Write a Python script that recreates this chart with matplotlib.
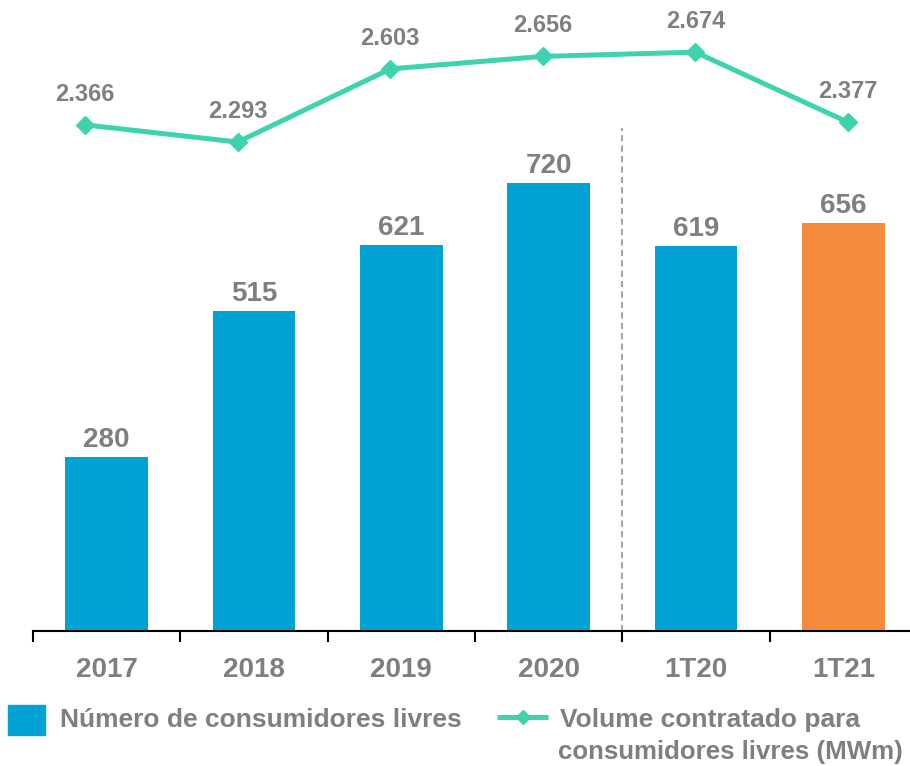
import matplotlib.pyplot as plt
from matplotlib.patches import Rectangle
from matplotlib.lines import Line2D

plt.rcParams['font.family'] = ['Liberation Sans', 'DejaVu Sans']
plt.rcParams['font.weight'] = 'bold'

categories = ["2017", "2018", "2019", "2020", "1T20", "1T21"]
consumidores = [280, 515, 621, 720, 619, 656]
volume = [2.366, 2.293, 2.603, 2.656, 2.674, 2.377]
volume_labels = ["2.366", "2.293", "2.603", "2.656", "2.674", "2.377"]

blue = '#00A3D3'
orange = '#F58B3C'
green = '#3DD3AE'
gray = '#7F7F7F'
bar_colors = [blue, blue, blue, blue, blue, orange]

fig = plt.figure(figsize=(9.1, 7.66), dpi=100)
pos = [33 / 910, 135 / 766, 884 / 910, 631 / 766]
ax = fig.add_axes(pos)
x = list(range(len(categories)))

# bars
ax.bar(x, consumidores, width=0.56, color=bar_colors, zorder=2)
for xi, v in zip(x, consumidores):
    ax.annotate(str(v), (xi, v), xytext=(0, 7), textcoords='offset points',
                ha='center', va='baseline', fontsize=20, color=gray, fontweight='bold')

ax.set_xlim(-0.5, 5.5)
ax.set_ylim(0, 1014)
for s in ['top', 'right', 'left']:
    ax.spines[s].set_visible(False)
ax.spines['bottom'].set_linewidth(1.5)
ax.set_yticks([])
ax.set_xticks(x)
ax.set_xticklabels(categories, fontsize=20, color=gray, fontweight='bold')
ax.tick_params(axis='x', which='major', length=0, pad=19)
ax.set_xticks([i - 0.5 for i in range(len(categories) + 1)], minor=True)
ax.tick_params(axis='x', which='minor', length=8, width=1.5, direction='out')

# separator between years and quarters
ax.axvline(3.5, ymin=0, ymax=(631 - 128) / 631, color='#A6A6A6', linestyle=(0, (3, 2)),
           linewidth=1.5, zorder=1)

# line chart overlaid (slightly different horizontal spread, as in the original)
ax2 = fig.add_axes(pos, frameon=False)
ax2.set_xlim(-0.341, 5.452)
ax2.set_ylim(0.221, 2.895)
ax2.axis('off')
ax2.plot(x, volume, color=green, linewidth=3.6, marker='D', markersize=9, zorder=3)
for xi, v, lab in zip(x, volume, volume_labels):
    ax2.annotate(lab, (xi, v), xytext=(0, 22), textcoords='offset points',
                 ha='center', va='center', fontsize=17, color=gray, fontweight='bold')

# legend
fig.add_artist(Rectangle((8 / 910, 1 - 735 / 766), 37 / 910, 30 / 766,
                         transform=fig.transFigure, color=blue))
fig.text(60 / 910, 1 - 720 / 766, "Número de consumidores livres", fontsize=19,
         color=gray, fontweight='bold', va='center', ha='left')
fig.add_artist(Line2D([497 / 910, 548 / 910], [1 - 717 / 766, 1 - 717 / 766],
                      transform=fig.transFigure, color=green, linewidth=3.6,
                      solid_capstyle='butt'))
fig.add_artist(Line2D([522.5 / 910], [1 - 717 / 766], transform=fig.transFigure,
                      color=green, marker='D', markersize=7, linestyle='none'))
fig.text(560 / 910, 1 - 720 / 766, "Volume contratado para", fontsize=19,
         color=gray, fontweight='bold', va='center', ha='left')
fig.text(558 / 910, 1 - 752 / 766, "consumidores livres (MWm)", fontsize=18.6,
         color=gray, fontweight='bold', va='center', ha='left')

fig.savefig('out.png', dpi=100)
